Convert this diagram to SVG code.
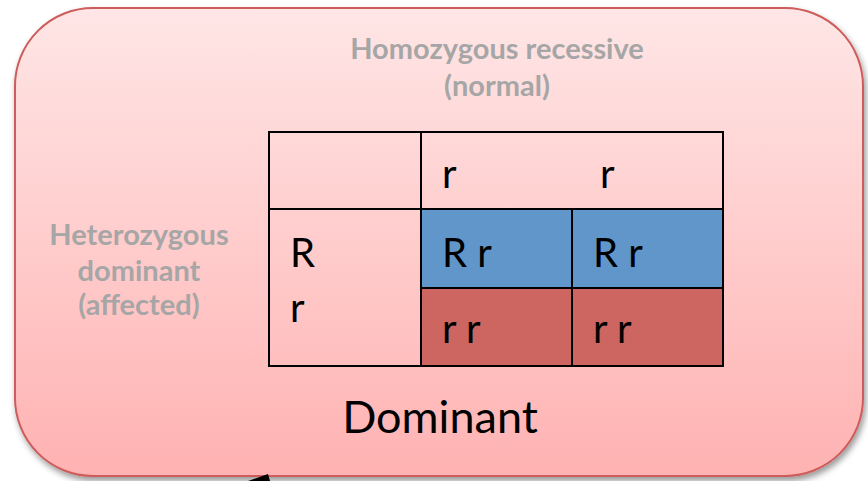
<svg xmlns="http://www.w3.org/2000/svg" width="868" height="481" viewBox="0 0 868 481">
<style>
.lbl{font-family:Lato,"Liberation Sans",sans-serif;font-weight:bold;fill:#a6a6a6;font-size:29px;text-anchor:middle}
.cell{font-family:Lato,"Liberation Sans",sans-serif;fill:#000;font-size:40px}
.grid{stroke:#000;stroke-width:2;fill:none}
</style>
<defs>
<linearGradient id="bg" x1="0" y1="0" x2="0" y2="1">
<stop offset="0" stop-color="#ffe6e6"/>
<stop offset="1" stop-color="#ffb2b2"/>
</linearGradient>
<filter id="sh" x="-5%" y="-5%" width="115%" height="115%">
<feDropShadow dx="2" dy="4" stdDeviation="3" flood-color="#000" flood-opacity="0.4"/>
</filter>
</defs>
<g id="frame">
<rect x="15" y="8" width="848" height="468" rx="78" ry="78" fill="url(#bg)" stroke="#cd5c5c" stroke-width="2" filter="url(#sh)"/>
</g>
<g id="table">
<rect x="421" y="209" width="151" height="79" fill="#6096c9"/>
<rect x="572" y="209" width="151" height="79" fill="#6096c9"/>
<rect x="421" y="288" width="151" height="78" fill="#cd6660"/>
<rect x="572" y="288" width="151" height="78" fill="#cd6660"/>
<rect class="grid" x="269" y="132" width="454" height="234"/>
<line class="grid" x1="421" y1="132" x2="421" y2="366"/>
<line class="grid" x1="269" y1="209" x2="723" y2="209"/>
<line class="grid" x1="572" y1="209" x2="572" y2="366"/>
<line class="grid" x1="421" y1="288" x2="723" y2="288"/>
<text class="cell" x="442" y="188">r</text>
<text class="cell" x="600" y="188">r</text>
<text class="cell" x="290" y="267">R</text>
<text class="cell" x="290" y="322">r</text>
<text class="cell" x="442" y="267">R r</text>
<text class="cell" x="593" y="267">R r</text>
<text class="cell" x="442" y="343">r r</text>
<text class="cell" x="593" y="343">r r</text>
</g>
<g id="labels">
<text class="lbl" x="497" y="59">Homozygous recessive</text>
<text class="lbl" x="497" y="96">(normal)</text>
<text class="lbl" x="139" y="245">Heterozygous</text>
<text class="lbl" x="139" y="281">dominant</text>
<text class="lbl" x="139" y="315">(affected)</text>
<text x="440" y="433" style="font-family:Lato,'Liberation Sans',sans-serif;font-size:45px;text-anchor:middle;fill:#000">Dominant</text>
</g>
<g id="connectors">
<polygon points="248,481 268,474 270,481" fill="#000"/>
</g>
</svg>
